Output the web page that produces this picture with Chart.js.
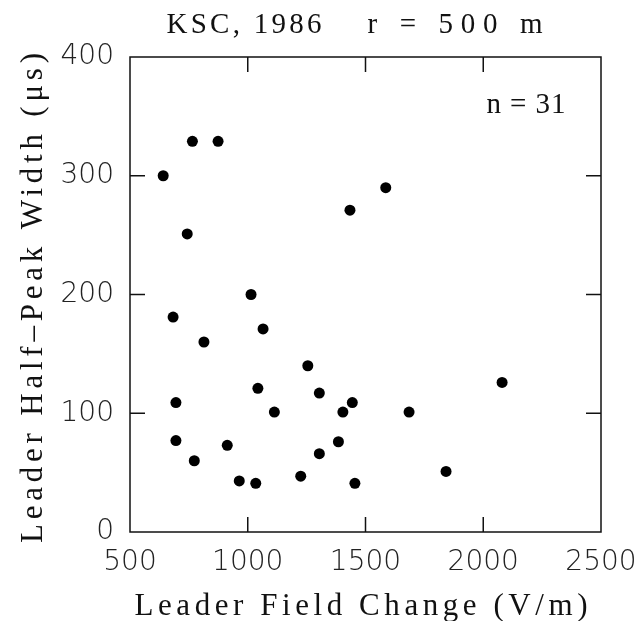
<!DOCTYPE html>
<html>
<head>
<meta charset="utf-8">
<script src="https://cdn.jsdelivr.net/npm/chart.js@4/dist/chart.umd.min.js"></script>
<style>
  html, body { margin: 0; padding: 0; background: #fff; }
  canvas { display: block; }
</style>
</head>
<body>
<canvas id="c" width="643" height="621"></canvas>
<script>
// ---- Data ----
const fieldChange = [641, 765, 874, 743, 683, 814, 1014, 1065, 695, 695, 773, 913, 964, 1034, 1043, 1113, 1255, 1304, 1225, 1304, 1385, 1404, 1444, 1455, 1434, 1586, 1685, 2080, 1842];
const halfPeakWidth = [300, 329, 329, 251, 181, 160, 200, 171, 109, 77, 60, 73, 43, 41, 121, 101, 140, 117, 47, 66, 76, 101, 109, 41, 271, 290, 101, 126, 51];
const xTickValues = [500, 1000, 1500, 2000, 2500];
const yTickValues = [0, 100, 200, 300, 400];

const titleLeft = 'KSC, 1986';
const titleRight = 'r = 500 m';
const xAxisTitle = 'Leader Field Change (V/m)';
const yAxisTitle = 'Leader Half\u2013Peak Width (\u03BCs)';
const countLabel = 'n = 31';

const points = fieldChange.map((x, i) => ({ x: x, y: halfPeakWidth[i] }));

const SERIF = '"Liberation Serif", "DejaVu Serif", serif';
const TICKFONT = { family: '"DejaVu Sans", sans-serif', size: 28, weight: '200' };

function drawFitted(ctx, text, cx, baseY, targetW, font, rotate) {
  ctx.save();
  ctx.font = font;
  ctx.letterSpacing = '0px';
  const w = ctx.measureText(text).width;
  const n = text.length;
  const s = n > 1 ? (targetW - w) / (n - 1) : 0;
  ctx.letterSpacing = s + 'px';
  ctx.textAlign = 'left';
  ctx.textBaseline = 'alphabetic';
  ctx.fillStyle = '#111';
  if (rotate) {
    ctx.translate(cx, baseY);
    ctx.rotate(-Math.PI / 2);
    ctx.fillText(text, -targetW / 2, 0);
  } else {
    ctx.fillText(text, cx - targetW / 2, baseY);
  }
  ctx.restore();
}

const framePlugin = {
  id: 'frame',
  afterDraw(chart) {
    const ctx = chart.ctx;
    const a = chart.chartArea;
    const xs = chart.scales.x, ys = chart.scales.y;
    ctx.save();
    ctx.strokeStyle = '#111';
    ctx.lineWidth = 1.5;
    ctx.strokeRect(a.left, a.top, a.right - a.left, a.bottom - a.top);
    const tl = 15;
    ctx.beginPath();
    xs.ticks.forEach(t => {
      if (t.value === xs.min || t.value === xs.max) return;
      const px = xs.getPixelForValue(t.value);
      ctx.moveTo(px, a.bottom); ctx.lineTo(px, a.bottom - tl);
      ctx.moveTo(px, a.top); ctx.lineTo(px, a.top + tl);
    });
    ys.ticks.forEach(t => {
      if (t.value === ys.min || t.value === ys.max) return;
      const py = ys.getPixelForValue(t.value);
      ctx.moveTo(a.left, py); ctx.lineTo(a.left + tl, py);
      ctx.moveTo(a.right, py); ctx.lineTo(a.right - tl, py);
    });
    ctx.stroke();
    ctx.restore();

    drawFitted(ctx, titleLeft, 244, 33, 155, '29px ' + SERIF, false);
    drawFitted(ctx, titleRight, 455, 33, 175, '29px ' + SERIF, false);
    drawFitted(ctx, xAxisTitle, 361, 615, 453, '31px ' + SERIF, false);
    drawFitted(ctx, yAxisTitle, 42, 298, 490, '31px ' + SERIF, true);
    drawFitted(ctx, countLabel, 526, 113, 79, '29px ' + SERIF, false);
  }
};

new Chart(document.getElementById('c'), {
  type: 'scatter',
  data: {
    datasets: [{
      data: points,
      backgroundColor: '#000',
      borderWidth: 0,
      pointRadius: 5.5,
      pointHoverRadius: 5.5
    }]
  },
  options: {
    responsive: false,
    animation: false,
    devicePixelRatio: 1,
    layout: { padding: { top: 57, right: 42, left: 0, bottom: 0 } },
    plugins: { legend: { display: false }, tooltip: { enabled: false }, title: { display: false } },
    scales: {
      x: {
        type: 'linear',
        min: xTickValues[0],
        max: xTickValues[xTickValues.length - 1],
        afterBuildTicks: s => { s.ticks = xTickValues.map(v => ({ value: v })); },
        grid: { display: false, drawTicks: false },
        border: { display: false },
        ticks: { color: '#222', font: TICKFONT, padding: 14, maxRotation: 0, autoSkip: false, callback: v => String(v) },
        afterFit: s => { s.height = 89; s.paddingLeft = 0; s.paddingRight = 0; }
      },
      y: {
        type: 'linear',
        min: yTickValues[0],
        max: yTickValues[yTickValues.length - 1],
        afterBuildTicks: s => { s.ticks = yTickValues.map(v => ({ value: v })); },
        grid: { display: false, drawTicks: false },
        border: { display: false },
        ticks: { color: '#222', font: TICKFONT, padding: 16, autoSkip: false, callback: v => String(v) },
        afterFit: s => { s.width = 130; s.paddingTop = 0; s.paddingBottom = 0; }
      }
    }
  },
  plugins: [framePlugin]
});
</script>
</body>
</html>
